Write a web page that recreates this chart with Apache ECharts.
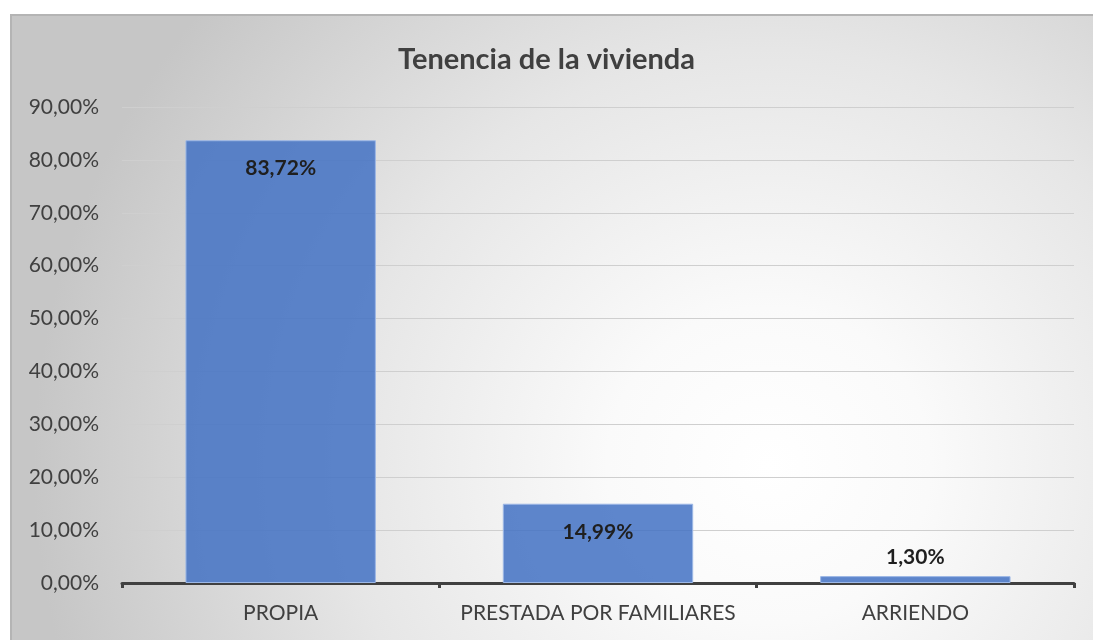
<!DOCTYPE html>
<html>
<head>
<meta charset="utf-8">
<script src="https://cdn.jsdelivr.net/npm/echarts@6/dist/echarts.min.js"></script>
<style>
  html, body { margin: 0; padding: 0; background: #ffffff; }
  #page { position: relative; width: 1093px; height: 640px; overflow: hidden; background: #ffffff; }
  #frame {
    position: absolute; left: 10px; top: 14px; width: 1083px; height: 626px;
    box-sizing: border-box; border-top: 2px solid #b4b4b4; border-left: 2px solid #b4b4b4;
    background: radial-gradient(ellipse 68% 115% at 70% 72%, #ffffff 0%, #fafafa 22%, #e6e6e6 58%, #c6c6c6 100%);
  }
  #chart { position: absolute; left: 0; top: 0; width: 1093px; height: 640px; }
</style>
</head>
<body>
<div id="page">
  <div id="frame"></div>
  <div id="chart"></div>
</div>
<script>
const title = 'Tenencia de la vivienda';
const categories = ['PROPIA', 'PRESTADA POR FAMILIARES', 'ARRIENDO'];
const shares = [83.72, 14.99, 1.30];

const fmt = v => v.toFixed(2).replace('.', ',') + '%';
const font = 'Lato, "Open Sans", sans-serif';

// Small bars carry their label above; tall bars carry it inside near the top.
const barData = shares.map(v => ({
  value: v,
  label: v < 5
    ? { position: 'top', distance: 8 }
    : { position: 'insideTop', distance: 18 }
}));

const chart = echarts.init(document.getElementById('chart'), null, { renderer: 'canvas' });
chart.setOption({
  backgroundColor: 'transparent',
  animation: false,
  title: {
    text: title,
    left: 'center',
    top: 40,
    textStyle: { fontFamily: font, fontSize: 29, fontWeight: 'bold', color: '#404040' }
  },
  grid: { left: 122, right: 19, top: 107, bottom: 57 },
  xAxis: {
    type: 'category',
    data: categories,
    axisLine: { lineStyle: { color: '#404040', width: 3 } },
    axisTick: { show: true, length: 5, lineStyle: { color: '#404040', width: 3 } },
    axisLabel: { interval: 0, hideOverlap: false, fontFamily: font, fontSize: 21, color: '#404040', margin: 20 }
  },
  yAxis: {
    type: 'value',
    min: 0,
    max: 90,
    interval: 10,
    axisLine: { show: false },
    axisTick: { show: false },
    splitLine: { lineStyle: { color: '#cfcfcf', width: 1 } },
    axisLabel: { fontFamily: font, fontSize: 21, color: '#404040', margin: 23, formatter: v => fmt(v) }
  },
  series: [{
    type: 'bar',
    data: barData,
    barWidth: '60%',
    itemStyle: { color: 'rgba(68,114,196,0.86)', borderColor: '#9db8e6', borderWidth: 1 },
    label: {
      show: true,
      fontFamily: font,
      fontSize: 21,
      fontWeight: 'bold',
      color: '#1f1f1f',
      formatter: p => fmt(p.value)
    }
  }]
});
</script>
</body>
</html>
